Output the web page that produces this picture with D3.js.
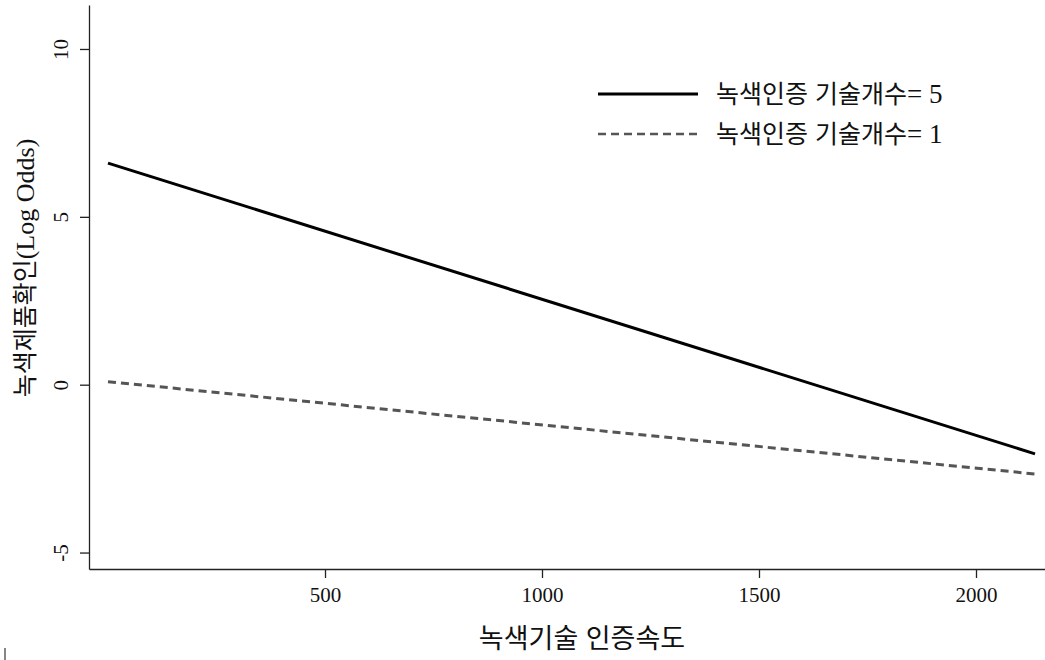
<!DOCTYPE html>
<html lang="ko">
<head>
<meta charset="utf-8">
<script src="https://cdn.jsdelivr.net/npm/d3@7"></script>
<style>
    body { margin: 0; background: #fff; }
    .tick text { font-family: "Liberation Serif", serif; font-size: 21px; fill: #111; }
    .domain, .tick line { stroke: #222; stroke-width: 1.3px; }
    .kr { font-family: "Noto Sans CJK KR", sans-serif; }
    .serif { font-family: "Liberation Serif", serif; }
</style>
</head>
<body>
<script>
    // values
    var speed = [0, 2136];
    var count5 = [6.6, -2.06];
    var count1 = [0.09, -2.66];
    var seriesNames = ["녹색인증 기술개수", "녹색인증 기술개수"];
    var seriesValues = ["= 5", "= 1"];
    var xTicks = [500, 1000, 1500, 2000];
    var yTicks = [-5, 0, 5, 10];

    var width = 1045, height = 660;
    var margin = {left: 89, right: 0, top: 5, bottom: 91};

    var svg = d3.select("body").append("svg")
        .attr("width", width)
        .attr("height", height);

    var x = d3.scaleLinear()
        .domain([-43.8, 2159])
        .range([margin.left, width - margin.right]);
    var y = d3.scaleLinear()
        .domain([-5.49, 11.31])
        .range([height - margin.bottom, margin.top]);

    // x axis
    svg.append("g")
        .attr("transform", "translate(0," + (height - margin.bottom) + ")")
        .call(d3.axisBottom(x).tickValues(xTicks).tickSize(9).tickPadding(9).tickSizeOuter(0)
            .tickFormat(function(d) { return String(d); }));

    // y axis, rotated labels like R
    var yAxis = svg.append("g")
        .attr("transform", "translate(" + margin.left + ",0)")
        .call(d3.axisLeft(y).tickValues(yTicks).tickSize(9).tickSizeOuter(0)
            .tickFormat(function(d) { return String(d); }));
    yAxis.selectAll(".tick text")
        .attr("x", 0).attr("dy", 0)
        .attr("text-anchor", "middle")
        .attr("transform", "translate(-21,0) rotate(-90)");

    var line = d3.line()
        .x(function(d) { return x(d[0]); })
        .y(function(d) { return y(d[1]); });

    svg.append("path")
        .datum(d3.zip(speed, count5))
        .attr("d", line)
        .attr("fill", "none")
        .attr("stroke", "#000")
        .attr("stroke-width", 3);

    svg.append("path")
        .datum(d3.zip(speed, count1))
        .attr("d", line)
        .attr("fill", "none")
        .attr("stroke", "#555")
        .attr("stroke-width", 3)
        .attr("stroke-dasharray", "8,5");

    // legend
    var legend = svg.append("g").attr("transform", "translate(598,94)");
    legend.selectAll("line")
        .data(seriesNames)
        .enter().append("line")
        .attr("x1", 0).attr("x2", 100)
        .attr("y1", function(d, i) { return i * 40; })
        .attr("y2", function(d, i) { return i * 40; })
        .attr("stroke", function(d, i) { return i == 0 ? "#000" : "#555"; })
        .attr("stroke-width", function(d, i) { return i == 0 ? 3 : 2.5; })
        .attr("stroke-dasharray", function(d, i) { return i == 0 ? null : "8,5"; });

    var lt = legend.selectAll("text")
        .data(seriesNames)
        .enter().append("text")
        .attr("x", 118)
        .attr("y", function(d, i) { return i * 40 + 9; })
        .style("font-size", "25px")
        .style("fill", "#111");
    lt.append("tspan").attr("class", "kr").text(function(d) { return d; });
    lt.append("tspan").attr("class", "serif").style("font-size", "27px")
        .text(function(d, i) { return seriesValues[i]; });

    // axis titles
    svg.append("text")
        .attr("class", "kr")
        .attr("x", 582).attr("y", 648)
        .attr("text-anchor", "middle")
        .style("font-size", "27px")
        .style("fill", "#111")
        .text("녹색기술 인증속도");

    var yt = svg.append("text")
        .attr("transform", "translate(34,268) rotate(-90)")
        .attr("text-anchor", "middle")
        .style("font-size", "25px")
        .style("fill", "#111");
    yt.append("tspan").attr("class", "kr").text("녹색제품확인");
    yt.append("tspan").attr("class", "serif").style("font-size", "26px").text("(Log Odds)");

    // small stray mark at bottom left
    svg.append("line")
        .attr("x1", 5).attr("x2", 5)
        .attr("y1", 648).attr("y2", 660)
        .attr("stroke", "#444").attr("stroke-width", 1.3);
</script>
</body>
</html>
